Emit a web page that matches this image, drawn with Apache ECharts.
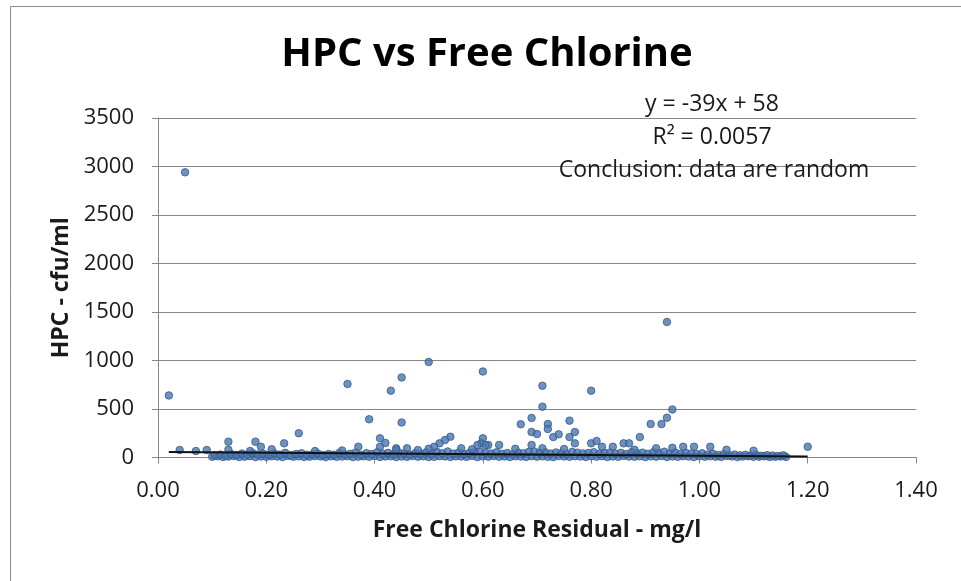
<!DOCTYPE html>
<html>
<head>
<meta charset="utf-8">
<script src="https://cdn.jsdelivr.net/npm/echarts@6/dist/echarts.min.js"></script>
<style>
html,body{margin:0;padding:0;background:#fff;}
#chart{width:961px;height:581px;}
</style>
</head>
<body>
<div id="chart"></div>
<script>
// ---- data (Free chlorine residual mg/l, HPC cfu/ml) ----
var titleText = 'HPC vs Free Chlorine';
var xAxisTitle = 'Free Chlorine Residual - mg/l';
var yAxisTitle = 'HPC - cfu/ml';
var annotationLines = ['y = -39x + 58', 'R\u00B2 = 0.0057', 'Conclusion: data are random'];
var xTicks = [0, 0.2, 0.4, 0.6, 0.8, 1.0, 1.2, 1.4];
var yTicks = [0, 500, 1000, 1500, 2000, 2500, 3000, 3500];

var trendSlope = -39;
var trendIntercept = 58;
var trendRange = [0.02, 1.20];

var outlierPoints = [
  [0.02, 640], [0.05, 2940], [0.35, 758], [0.43, 689], [0.45, 825], [0.50, 985],
  [0.60, 887], [0.71, 740], [0.71, 524], [0.80, 689], [0.94, 1397], [0.95, 495],
  [0.94, 410], [0.93, 345], [0.91, 345], [0.39, 394], [0.45, 361], [0.67, 343],
  [0.69, 408], [0.72, 345], [0.72, 294], [0.69, 263], [0.70, 242], [0.76, 380],
  [0.77, 263], [0.73, 211], [0.74, 239], [0.76, 211], [0.89, 211], [0.26, 250],
  [1.20, 111]
];

var midPoints = [
  [0.13, 163], [0.18, 163], [0.233, 146], [0.41, 198], [0.41, 111], [0.42, 150],
  [0.19, 111], [0.37, 111], [0.54, 214], [0.53, 180], [0.52, 146], [0.51, 111],
  [0.60, 198], [0.597, 146], [0.59, 129], [0.61, 129], [0.77, 146], [0.69, 129],
  [0.80, 146], [0.81, 170], [0.86, 146], [0.87, 146], [0.97, 111], [0.99, 111],
  [1.02, 111], [0.63, 129], [0.605, 129], [0.82, 111], [0.84, 111], [0.44, 95],
  [0.46, 95], [0.48, 77], [0.04, 77], [0.07, 67], [0.09, 77], [0.21, 85],
  [0.13, 80], [0.17, 67], [0.44, 77], [0.50, 90], [0.56, 95], [0.66, 90],
  [0.92, 95], [0.95, 100], [1.05, 80], [1.10, 70], [0.58, 85], [0.71, 95],
  [0.75, 88], [0.88, 80], [0.34, 72], [0.29, 66]
];

var bandLow = [
  [0.10,8],[0.11,12],[0.12,5],[0.13,10],[0.14,15],[0.15,6],[0.16,9],[0.17,14],[0.18,4],[0.19,11],
  [0.20,7],[0.21,13],[0.22,10],[0.23,5],[0.24,16],[0.25,8],[0.26,12],[0.27,6],[0.28,9],[0.29,15],
  [0.30,11],[0.31,4],[0.32,13],[0.33,7],[0.34,10],[0.35,14],[0.36,5],[0.37,9],[0.38,12],[0.39,8],
  [0.40,16],[0.41,6],[0.42,11],[0.43,13],[0.44,4],[0.45,10],[0.46,7],[0.47,15],[0.48,9],[0.49,12],
  [0.50,5],[0.51,8],[0.52,14],[0.53,11],[0.54,6],[0.55,13],[0.56,10],[0.57,7],[0.58,16],[0.59,4],
  [0.60,12],[0.61,9],[0.62,15],[0.63,8],[0.64,11],[0.65,5],[0.66,13],[0.67,10],[0.68,6],[0.69,14],
  [0.70,9],[0.71,12],[0.72,7],[0.73,4],[0.74,15],[0.75,11],[0.76,8],[0.77,13],[0.78,10],[0.79,6],
  [0.80,12],[0.81,9],[0.82,14],[0.83,5],[0.84,11],[0.85,7],[0.86,16],[0.87,10],[0.88,8],[0.89,13],
  [0.90,4],[0.91,12],[0.92,9],[0.93,15],[0.94,6],[0.95,11],[0.96,7],[0.97,14],[0.98,10],[0.99,5],
  [1.00,13],[1.01,8],[1.02,12],[1.03,9],[1.04,6],[1.05,15],[1.06,11],[1.07,4],[1.08,10],[1.09,13],
  [1.10,7],[1.11,9],[1.12,12],[1.13,5],[1.14,8],[1.15,10],[1.16,6]
];

var bandHigh = [
  [0.105,22],[0.115,30],[0.125,18],[0.135,35],[0.145,25],[0.155,40],[0.165,28],[0.175,45],[0.185,32],[0.195,38],
  [0.205,26],[0.215,42],[0.225,30],[0.235,48],[0.245,24],[0.255,36],[0.265,44],[0.275,28],[0.285,33],[0.295,40],
  [0.305,25],[0.315,35],[0.325,29],[0.335,46],[0.345,31],[0.355,38],[0.365,52],[0.375,27],[0.385,44],[0.395,36],
  [0.405,55],[0.415,40],[0.425,48],[0.435,33],[0.445,50],[0.455,42],[0.465,30],[0.475,45],[0.485,38],[0.495,52],
  [0.505,35],[0.515,58],[0.525,44],[0.535,62],[0.545,40],[0.555,50],[0.565,36],[0.575,47],[0.585,55],[0.595,60],
  [0.605,48],[0.615,42],[0.625,53],[0.635,38],[0.645,46],[0.655,34],[0.665,50],[0.675,44],[0.685,58],[0.695,62],
  [0.705,48],[0.715,55],[0.725,40],[0.735,52],[0.745,45],[0.755,36],[0.765,58],[0.775,50],[0.785,42],[0.795,47],
  [0.805,55],[0.815,38],[0.825,46],[0.835,52],[0.845,40],[0.855,48],[0.865,35],[0.875,56],[0.885,44],[0.895,50],
  [0.905,38],[0.915,54],[0.925,46],[0.935,60],[0.945,42],[0.955,52],[0.965,36],[0.975,48],[0.985,40],[0.995,34],
  [1.005,44],[1.015,30],[1.025,38],[1.035,26],[1.045,34],[1.055,24],[1.065,30],[1.075,22],[1.085,28],[1.095,20],
  [1.105,26],[1.115,18],[1.125,24],[1.135,20],[1.145,16],[1.155,22]
];

// ---- chart ----
var FONT = '"Open Sans", "Liberation Sans", sans-serif';
var AXIS_GREY = '#868686';
var TEXT = '#1a1a1a';

var allPoints = bandLow.concat(bandHigh, midPoints, outlierPoints);
var trendData = trendRange.map(function (x) { return [x, trendSlope * x + trendIntercept]; });

var chart = echarts.init(document.getElementById('chart'), null, { renderer: 'canvas' });

var markerStyle = { color: '#4A77B0', borderColor: '#35598A', borderWidth: 1 };

chart.setOption({
  animation: false,
  backgroundColor: '#ffffff',
  grid: { left: 158, right: 45, top: 118, bottom: 123.5, containLabel: false },
  xAxis: {
    type: 'value',
    min: xTicks[0], max: xTicks[xTicks.length - 1], interval: xTicks[1] - xTicks[0],
    axisLine: { show: true, onZero: false, lineStyle: { color: AXIS_GREY, width: 1 } },
    axisTick: { show: true, length: 6, lineStyle: { color: AXIS_GREY } },
    splitLine: { show: false },
    axisLabel: { formatter: function (v) { return v.toFixed(2); }, fontFamily: FONT, fontSize: 22, color: TEXT, margin: 22 },
    name: xAxisTitle, nameLocation: 'middle', nameGap: 61,
    nameTextStyle: { fontFamily: FONT, fontSize: 23, fontWeight: 'bold', color: TEXT }
  },
  yAxis: {
    type: 'value',
    min: yTicks[0], max: yTicks[yTicks.length - 1], interval: yTicks[1] - yTicks[0],
    axisLine: { show: true, lineStyle: { color: AXIS_GREY, width: 1 } },
    axisTick: { show: true, length: 6, lineStyle: { color: AXIS_GREY } },
    splitLine: { show: true, lineStyle: { color: AXIS_GREY, width: 1 } },
    axisLabel: { formatter: function (v) { return String(v); }, fontFamily: FONT, fontSize: 22, color: TEXT, margin: 24 },
    name: yAxisTitle, nameLocation: 'middle', nameGap: 82, nameRotate: 90,
    nameTextStyle: { fontFamily: FONT, fontSize: 23, fontWeight: 'bold', color: TEXT }
  },
  series: [
    {
      type: 'scatter', data: allPoints, symbol: 'circle', symbolSize: 7.5,
      itemStyle: markerStyle, z: 2
    },
    {
      type: 'line', data: trendData, symbol: 'none', silent: true,
      lineStyle: { color: '#111111', width: 2 }, z: 3
    }
  ],
  graphic: [
    { type: 'rect', left: 8, top: 4, z: -10, silent: true,
      shape: { x: 0.5, y: 0.5, width: 1000, height: 1000 },
      style: { fill: 'none', stroke: '#8c8c8c', lineWidth: 1 } },
    { type: 'text', x: 487, y: 55, z: 10,
      style: { text: titleText, font: 'bold 40px ' + FONT, fill: '#000', align: 'center', verticalAlign: 'middle' } },
    { type: 'text', x: 712, y: 104, z: 10,
      style: { text: annotationLines[0], font: '23px ' + FONT, fill: TEXT, align: 'center', verticalAlign: 'middle' } },
    { type: 'text', x: 712, y: 137, z: 10,
      style: { text: annotationLines[1], font: '23px ' + FONT, fill: TEXT, align: 'center', verticalAlign: 'middle' } },
    { type: 'text', x: 714, y: 170, z: 10,
      style: { text: annotationLines[2], font: '23px ' + FONT, fill: TEXT, align: 'center', verticalAlign: 'middle' } }
  ]
});
</script>
</body>
</html>
